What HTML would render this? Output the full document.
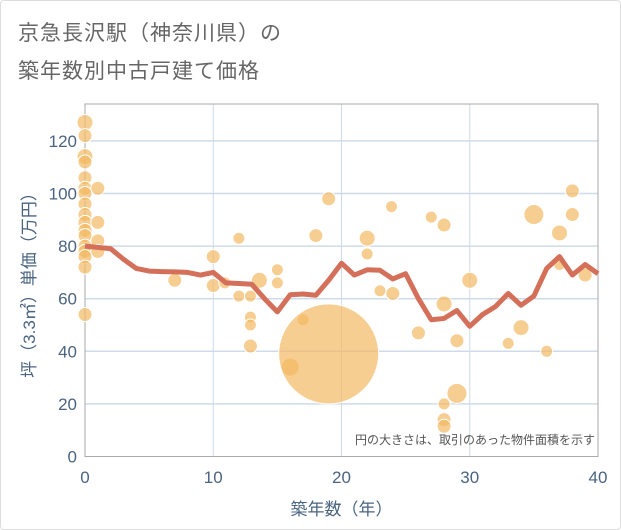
<!DOCTYPE html>
<html><head><meta charset="utf-8"><style>
body{margin:0;background:#fff;}
#wrap{position:relative;width:621px;height:530px;box-sizing:border-box;border:1px solid #ddd;border-radius:4px;overflow:hidden;background:#fff;}
.title{position:absolute;left:17px;font-family:"Liberation Sans","Noto Sans CJK JP",sans-serif;font-size:21px;color:#666;letter-spacing:1px;}
svg text{font-family:"Liberation Sans","Noto Sans CJK JP",sans-serif;}
</style></head><body>
<div id="wrap">
<div class="title" style="top:16px">京急長沢駅（神奈川県）の</div>
<div class="title" style="top:54px">築年数別中古戸建て価格</div>
<svg id="chart" width="621" height="530" style="position:absolute;left:0;top:0"></svg>
</div>
<script>
const xTicks=[0,10,20,30,40];
const yTicks=[0,20,40,60,80,100,120];
const lineAges=[0,1,2,3,4,5,6,7,8,9,10,11,12,13,14,15,16,17,18,19,20,21,22,23,24,25,26,27,28,29,30,31,32,33,34,35,36,37,38,39,40];
const linePrices=[80,79.5,79,75,71.5,70.5,70.3,70.2,70,69,70,66,65.8,65.5,60,55,61.5,61.8,61.3,67,73.5,69,71,70.8,67.5,69.5,60,52,52.5,55.5,49.5,54,57,62,57.5,61,71.5,76,69,73,69.5];
const bubbleAges=[0,0,0,0,0,0,0,0,0,0,0,0,0,0,0,0,0,1,1,1,1,7,10,10,10.9,12,12,12.9,12.9,12.9,12.9,13.6,15,15,16,17,18,19,19,22,22,23,23.9,24,26,27,28,28,28,28,28,29,29,30,33,34,35,36,37,37,38,38,39];
const bubblePrices=[127,122,114,112,106,102,100,96,92,89,86,84,80,78,76,72,54,102,89,82,78,67,76,65,66,83,61,61,53,50,42,67,71,66,34,52,84,98,39,83,77,63,95,62,47,91,88,58,20,14,11.5,44,24,67,43,49,92,40,85,73,101,92,69];
const bubbleAreas=[8,7,8,7,7,7,7,7,7,7,7,7,7,7,7,7,7,7,7,7,7,7,7,7,6,6,6,6,6,6,7,8,6,6,9,6,7,7,50,8,6,6,6,7,7,6,7,8,6,7,7,7,10,8,6,8,10,6,8,6,7,7,7];
const NS="http://www.w3.org/2000/svg";
const svg=document.getElementById('chart');
const X0=84,X1=597,Y0=455.5,YT=103;
const xs=v=>X0+(X1-X0)*v/40;
const ys=v=>Y0-2.63*v;
function mk(tag,attrs){const e=document.createElementNS(NS,tag);for(const k in attrs)e.setAttribute(k,attrs[k]);svg.appendChild(e);return e;}
// grid
yTicks.forEach(t=>{if(t===0)return;const l=mk('line',{x1:X0,x2:X1,y1:ys(t),y2:ys(t),stroke:'#cfdbe8','stroke-width':1.5});

});
xTicks.forEach(t=>{if(t===0||t===40)return;const l=mk('line',{x1:xs(t),x2:xs(t),y1:YT,y2:Y0,stroke:'#cfdbe8','stroke-width':1});

});
const frame=mk('rect',{x:X0,y:YT,width:X1-X0,height:Y0-YT,fill:'none',stroke:'#aaa','stroke-width':1});


// bubbles
bubbleAges.forEach((a,i)=>{const c=mk('circle',{cx:xs(a),cy:ys(bubblePrices[i]),r:bubbleAreas[i],fill:'#f3b962','fill-opacity':0.7,stroke:'#fff','stroke-width':1});

});
// line
const p=mk('polyline',{points:lineAges.map((a,i)=>xs(a)+','+ys(linePrices[i])).join(' '),fill:'none',stroke:'#d4705a','stroke-width':5,'stroke-linejoin':'round'});


// ticks
yTicks.forEach(t=>{const tx=mk('text',{x:X0-8,y:ys(t)+6,'text-anchor':'end','font-size':17,fill:'#4a6482'});tx.textContent=t;

});
xTicks.forEach(t=>{const tx=mk('text',{x:xs(t),y:482,'text-anchor':'middle','font-size':17,fill:'#4a6482'});tx.textContent=t;

});
const xt=mk('text',{x:(X0+X1)/2,y:514,'text-anchor':'middle','font-size':17,fill:'#4a6482'});xt.textContent='築年数（年）';


const yt=mk('text',{x:0,y:0,'text-anchor':'middle','font-size':17,fill:'#4a6482',transform:'translate(34,280) rotate(-90)'});yt.textContent='坪（3.3㎡）単価（万円）';


const note=mk('text',{x:594,y:443,'text-anchor':'end','font-size':12,fill:'#555'});note.textContent='円の大きさは、取引のあった物件面積を示す';


</script>
</body></html>
